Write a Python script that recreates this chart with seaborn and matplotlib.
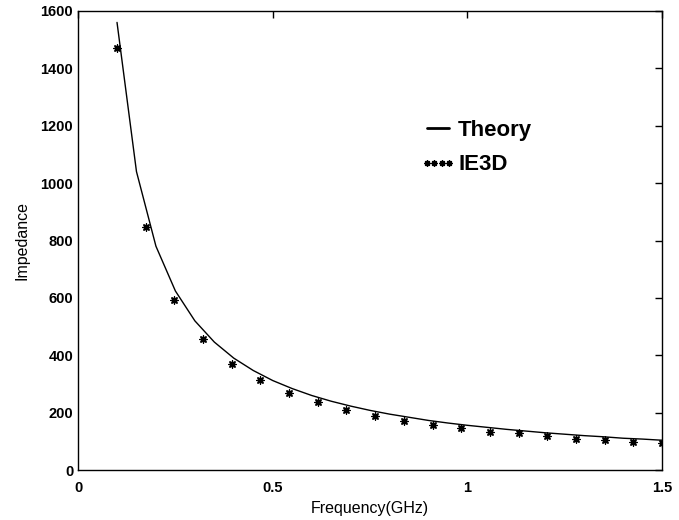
import pandas as pd
import matplotlib
matplotlib.use("Agg")
import matplotlib.pyplot as plt
import seaborn as sns
from matplotlib.lines import Line2D

# Theory curve
theory_f = [0.10, 0.15, 0.20, 0.25, 0.30, 0.35, 0.40, 0.45, 0.50, 0.55,
            0.60, 0.65, 0.70, 0.75, 0.80, 0.85, 0.90, 0.95, 1.00, 1.05,
            1.10, 1.15, 1.20, 1.25, 1.30, 1.35, 1.40, 1.45, 1.50]
theory_z = [1560, 1040, 780, 624, 520, 446, 390, 347, 312, 284,
            260, 240, 223, 208, 195, 184, 173, 164, 156, 149,
            142, 136, 130, 125, 120, 116, 111, 108, 104]

# IE3D simulation points
ie3d_f = [0.100, 0.174, 0.247, 0.321, 0.395, 0.468, 0.542, 0.616, 0.689, 0.763,
          0.837, 0.911, 0.984, 1.058, 1.132, 1.205, 1.279, 1.353, 1.426, 1.500]
ie3d_z = [1470, 846, 593, 457, 369, 314, 267, 236, 209, 189,
          172, 157, 145, 134, 128, 120, 110, 105, 97, 93]

xticks = [0, 0.5, 1, 1.5]
xticklabels = ["0", "0.5", "1", "1.5"]
yticks = [0, 200, 400, 600, 800, 1000, 1200, 1400, 1600]

if __name__ == "__main__":
    sns.set_style("white")
    plt.rcParams["font.family"] = ["Liberation Sans", "DejaVu Sans"]
    plt.rcParams["text.color"] = "black"
    plt.rcParams["axes.labelcolor"] = "black"

    theory = pd.DataFrame({"f": theory_f, "z": theory_z})
    ie3d = pd.DataFrame({"f": ie3d_f, "z": ie3d_z})

    fig, ax = plt.subplots(figsize=(6.79, 5.2), dpi=100)
    fig.subplots_adjust(left=0.115, right=0.975, bottom=0.096, top=0.979)

    sns.lineplot(data=theory, x="f", y="z", color="black", linewidth=1.0, ax=ax)
    star = (8, 2, 0)
    sns.scatterplot(data=ie3d, x="f", y="z", color="black", marker=star,
                    s=26, linewidth=1.0, ax=ax)

    ax.set_xlim(0, 1.5)
    ax.set_ylim(0, 1600)
    ax.set_xticks(xticks)
    ax.set_xticklabels(xticklabels)
    ax.set_yticks(yticks)
    ax.tick_params(direction="in", length=5, width=1, top=True, right=True,
                   labelsize=10.5, colors="black")
    ax.tick_params(axis="x", pad=8)
    for lab in ax.get_xticklabels() + ax.get_yticklabels():
        lab.set_fontweight("bold")
    for s in ax.spines.values():
        s.set_visible(True)
        s.set_color("black")
        s.set_linewidth(1.0)

    ax.set_xlabel("Frequency(GHz)", fontsize=11.5, labelpad=4)
    ax.set_ylabel("Impedance", fontsize=11.5, labelpad=8)

    handles = [Line2D([], [], color="black", linewidth=2.0),
               Line2D([], [], color="black", linestyle="none", marker=star,
                      markersize=4.5, markeredgewidth=1.0)]
    ax.legend(handles, ["Theory", "IE3D"], loc="upper left",
              bbox_to_anchor=(0.552, 0.806), frameon=False, numpoints=4,
              handlelength=1.6, handletextpad=0.1, labelspacing=0.6,
              prop={"size": 16, "weight": "bold"})

    plt.savefig("out.png", dpi=100)
